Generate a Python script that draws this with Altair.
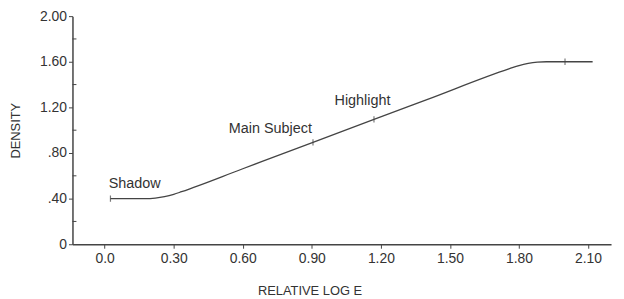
import altair as alt
import pandas as pd

# Characteristic curve
curve_x = [0.025, 0.174, 0.22, 0.26, 0.30, 0.334, 0.60, 0.905, 1.17, 1.40, 1.759, 1.80, 1.84, 1.88, 1.919, 2.12]
curve_y = [0.40, 0.40, 0.405, 0.4175, 0.4376, 0.4606, 0.662, 0.893, 1.094, 1.268, 1.5395, 1.5665, 1.5852, 1.5964, 1.60, 1.60]

# small tick marks on the curve
mark_x = [0.025, 0.905, 1.17, 2.00]
mark_y = [0.40, 0.893, 1.094, 1.60]

# annotations
label_text = ["Shadow", "Main Subject", "Highlight"]
label_x = [0.13, 0.72, 1.12]
label_y = [0.53, 1.01, 1.26]

x_ticks = [round(i * 0.15, 2) for i in range(15)]   # 0.0 .. 2.10
y_ticks = [0.0, 0.4, 0.8, 1.2, 1.6, 2.0]
y_minor = [0.2, 0.6, 1.0, 1.4, 1.8]

curve = pd.DataFrame({"x": curve_x, "y": curve_y})
marks = pd.DataFrame({"x": mark_x, "y": mark_y})
labels = pd.DataFrame({"t": label_text, "x": label_x, "y": label_y})
minor = pd.DataFrame({"y": y_minor})

FONT = "Liberation Sans"
INK = "#333333"

xs = alt.Scale(domain=[-0.14, 2.20], nice=False, zero=False)
ys = alt.Scale(domain=[0, 2.0], nice=False)

xax = alt.Axis(
    values=x_ticks,
    labelExpr="round(datum.value/0.15) % 2 == 0 ? (datum.value == 0 ? '0.0' : format(datum.value, '.2f')) : ''",
    title="RELATIVE LOG E",
    titleX=239, titleY=47, titleBaseline="middle", titleAlign="center",
    tickSize=4, labelPadding=3, labelFlush=False,
)
yax = alt.Axis(
    values=y_ticks,
    labelExpr="datum.value == 0 ? '0' : (datum.value < 1 ? replace(format(datum.value, '.2f'), '0.', '.') : format(datum.value, '.2f'))",
    title="DENSITY",
    titleAngle=270, titleX=-57, titleY=115, titleBaseline="middle", titleAlign="center",
    tickSize=4, labelPadding=2,
)

line = alt.Chart(curve).mark_line(color="#444444", strokeWidth=1.3, interpolate="monotone").encode(
    x=alt.X("x:Q", scale=xs, axis=xax),
    y=alt.Y("y:Q", scale=ys, axis=yax),
)

ticks = alt.Chart(marks).mark_point(shape="stroke", angle=90, size=40, color="#444444", strokeWidth=1.2).encode(
    x=alt.X("x:Q", scale=xs),
    y=alt.Y("y:Q", scale=ys),
)

text = alt.Chart(labels).mark_text(font=FONT, fontSize=14.5, color=INK, baseline="middle", align="center").encode(
    x=alt.X("x:Q", scale=xs),
    y=alt.Y("y:Q", scale=ys),
    text="t:N",
)

minor_rules = alt.Chart(minor).mark_rule(color="#444444", strokeWidth=1).encode(
    y=alt.Y("y:Q", scale=ys),
    x=alt.value(0),
    x2=alt.value(4),
)

chart = (
    alt.layer(line, ticks, text, minor_rules)
    .properties(
        width=543,
        height=230,
        autosize=alt.AutoSizeParams(type="none"),
        padding={"left": 65, "top": 7, "right": 5, "bottom": 54},
        background="white",
    )
    .configure_view(stroke=None)
    .configure_axis(
        grid=False,
        domainColor="#444444",
        domainWidth=1.5,
        tickColor="#444444",
        tickWidth=1,
        labelFont=FONT,
        labelFontSize=14,
        labelColor=INK,
        titleFont=FONT,
        titleFontSize=13,
        titleFontWeight="normal",
        titleColor=INK,
    )
)

chart.save("out.html", embed_options={"renderer": "svg", "actions": False})
